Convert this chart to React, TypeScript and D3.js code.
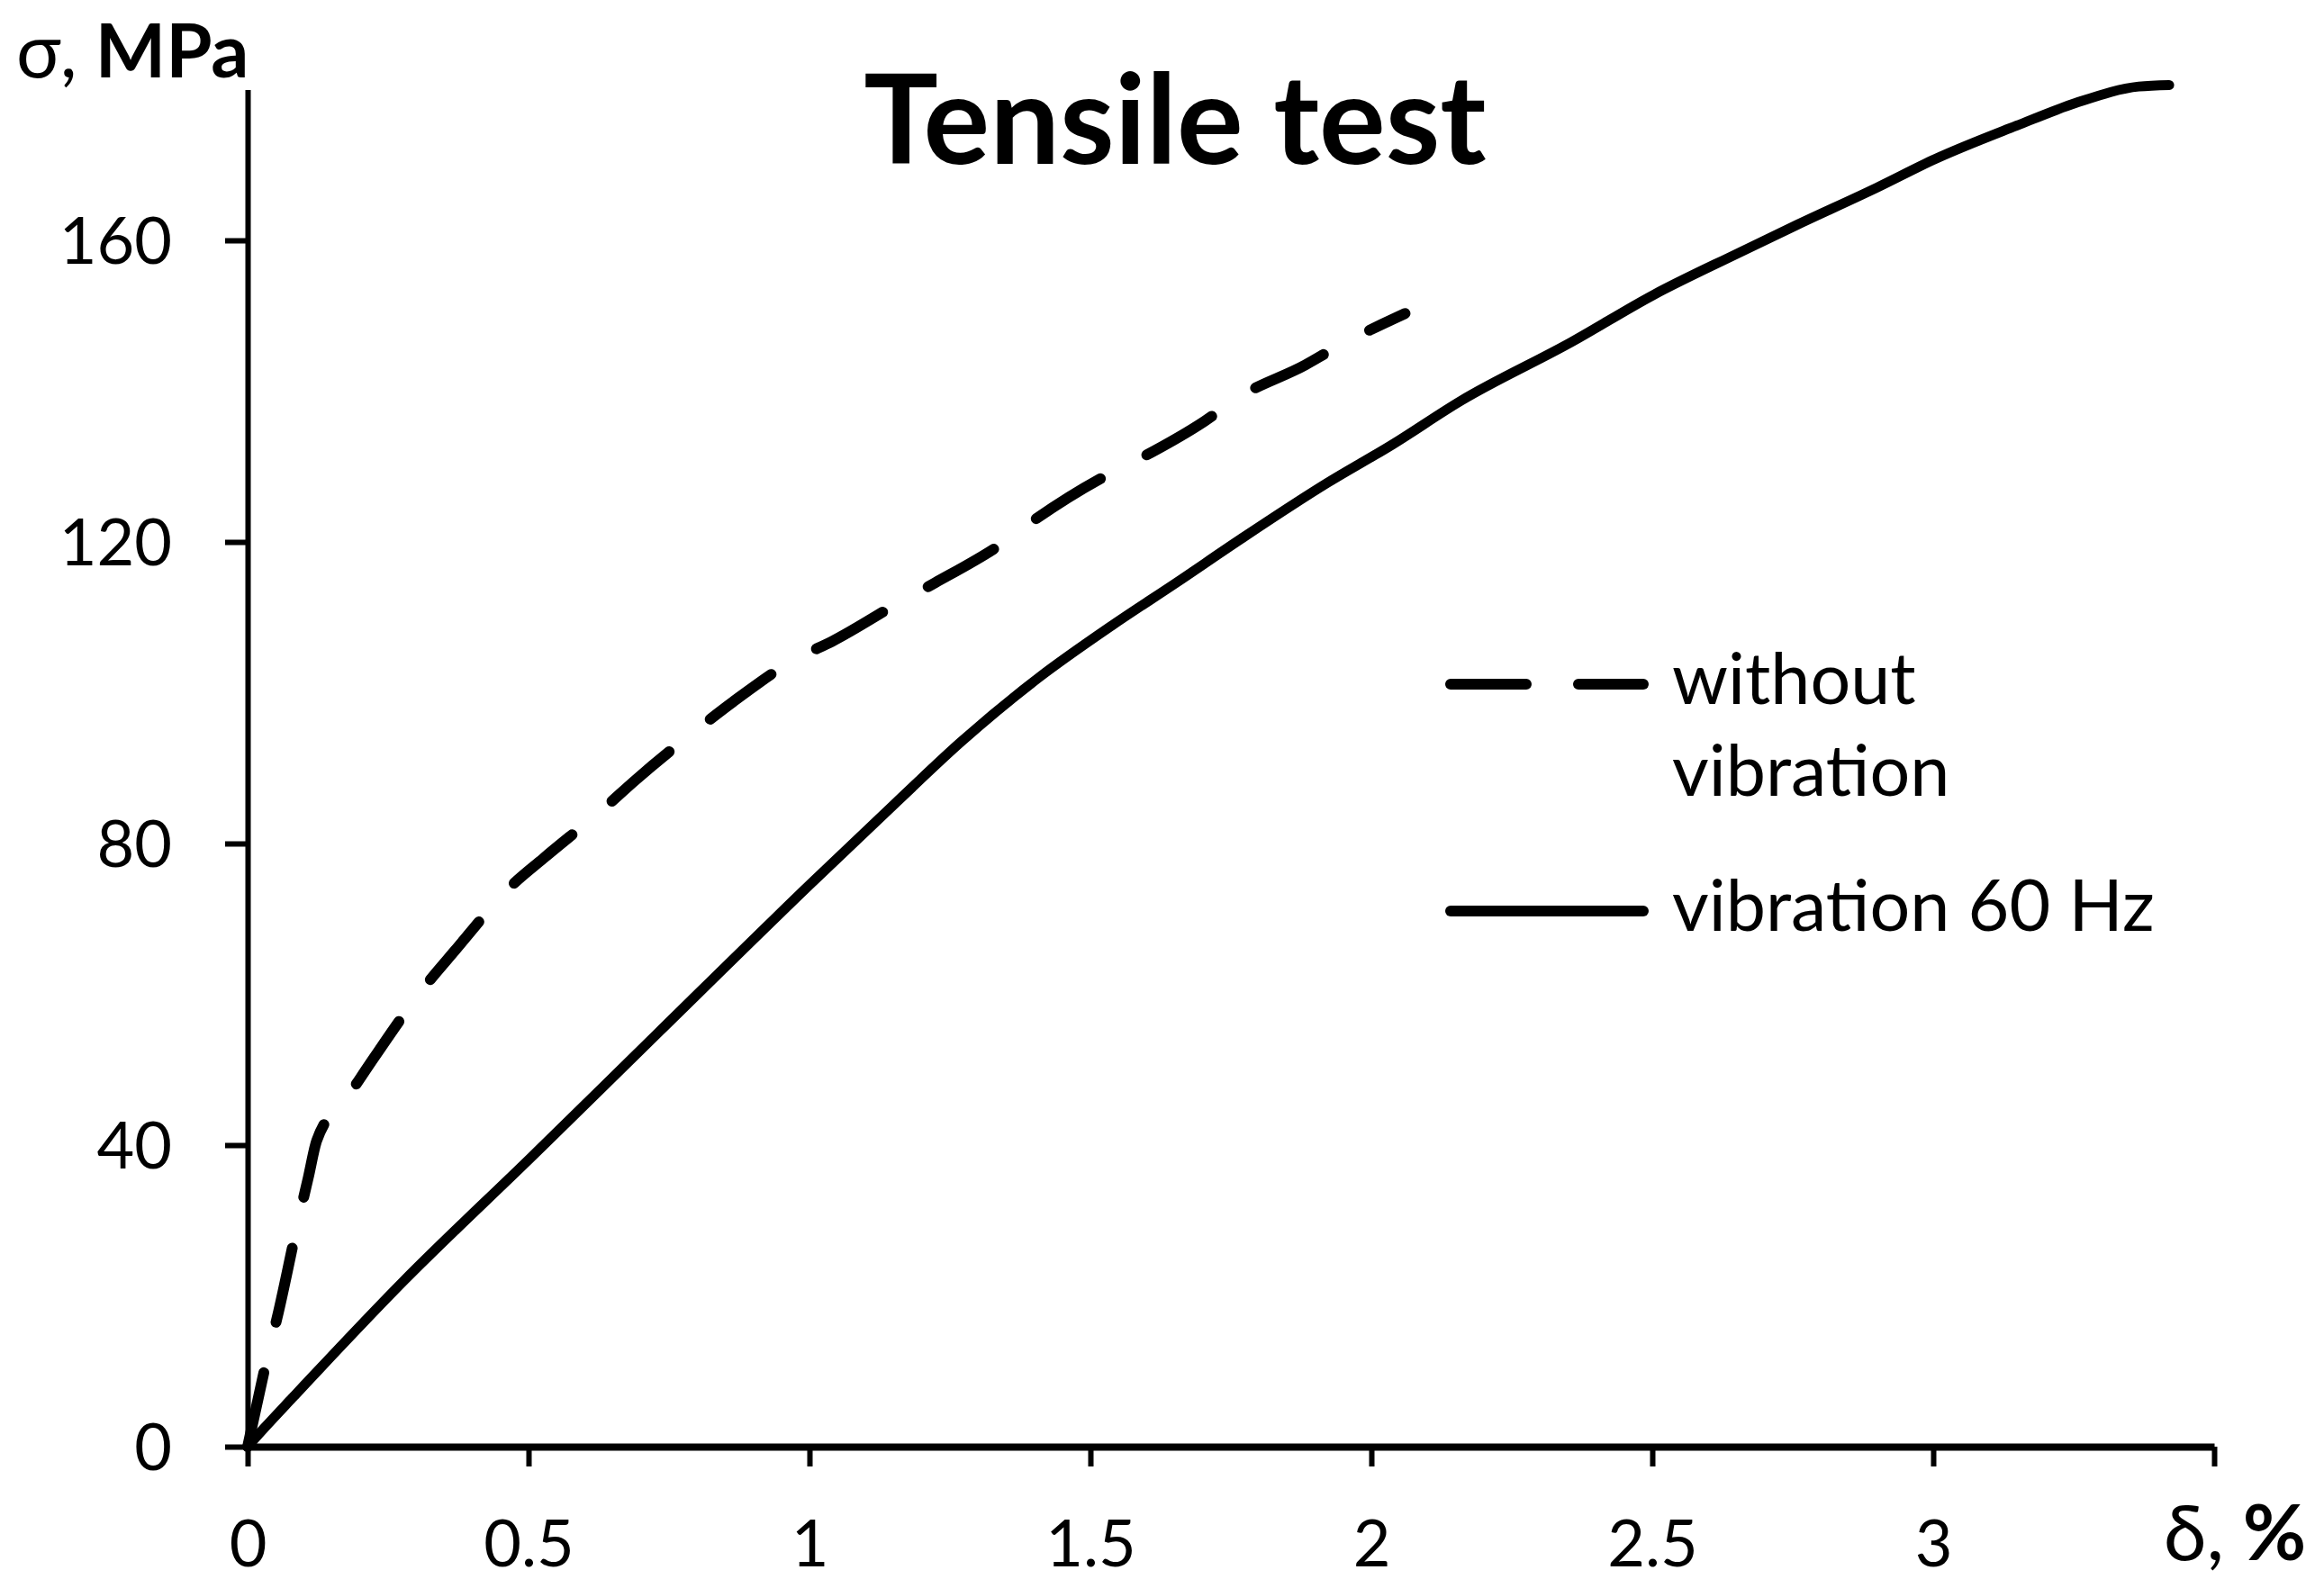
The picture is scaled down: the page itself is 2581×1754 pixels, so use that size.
import React, { useEffect, useRef } from "react";
import * as d3 from "d3";

// strain δ (%) and stress σ (MPa)
const withoutStrain = [0, 0.035, 0.055, 0.089, 0.108, 0.123, 0.178, 0.225, 0.316, 0.369, 0.471, 0.526, 0.636, 0.69, 0.808, 0.864, 0.981, 1.04, 1.165, 1.224, 1.343, 1.4, 1.523, 1.584, 1.703, 1.764, 1.883, 1.937, 2.06];
const withoutStress = [0, 11.8, 17.9, 29.6, 35.7, 40.6, 46.4, 51.6, 61.1, 65.8, 74.5, 78, 84.8, 88.4, 95.6, 98.8, 104.7, 106.8, 112.2, 114.6, 119.8, 122.9, 128.6, 130.9, 136, 139.2, 143.5, 145.8, 150.3];

const vib60Strain = [0, 0.03, 0.08, 0.278, 0.505, 0.732, 1.0, 1.155, 1.27, 1.408, 1.538, 1.653, 1.768, 1.921, 2.037, 2.159, 2.356, 2.503, 2.65, 2.756, 2.9, 3.004, 3.148, 3.253, 3.366, 3.42];
const vib60Stress = [0, 2.5, 6.5, 22, 38.4, 55, 74.5, 85.5, 93.5, 102, 108.9, 114.6, 120.4, 127.8, 132.9, 138.7, 146.5, 152.8, 158.2, 162, 167, 170.8, 175.2, 178.2, 180.4, 180.6];

const xTicks = [0, 0.5, 1, 1.5, 2, 2.5, 3, 3.5];
const xTickLabels = ["0", "0.5", "1", "1.5", "2", "2.5", "3", ""];
const yTicks = [0, 40, 80, 120, 160];
const yTickLabels = ["0", "40", "80", "120", "160"];

const legendLabels = [["without", "vibration"], ["vibration 60 Hz"]];
const legendDash = ["84 58", null];

const FONT = "Lato, 'Open Sans', 'Noto Sans', sans-serif";

const App: React.FC = () => {
  const svgRef = useRef<SVGSVGElement | null>(null);

  useEffect(() => {
    if (!svgRef.current) return;

    const width = 2581;
    const height = 1754;
    const margin = { top: 99.5, right: 122, bottom: 147, left: 275 };

    d3.select(svgRef.current).selectAll("*").remove();
    const svg = d3.select(svgRef.current).attr("width", width).attr("height", height);

    svg.append("rect").attr("width", width).attr("height", height).attr("fill", "white");

    const x = d3.scaleLinear().domain([0, 3.5]).range([margin.left, width - margin.right]);
    const y = d3.scaleLinear().domain([0, 180]).range([height - margin.bottom, margin.top]);

    // curves
    const line = d3
      .line<[number, number]>()
      .x((d) => x(d[0]))
      .y((d) => y(d[1]))
      .curve(d3.curveMonotoneX);

    svg
      .append("path")
      .datum(withoutStrain.map((v, i) => [v, withoutStress[i]] as [number, number]))
      .attr("d", line)
      .attr("fill", "none")
      .attr("stroke", "black")
      .attr("stroke-width", 12)
      .attr("stroke-linecap", "round")
      .attr("stroke-dasharray", "84 58");

    svg
      .append("path")
      .datum(vib60Strain.map((v, i) => [v, vib60Stress[i]] as [number, number]))
      .attr("d", line)
      .attr("fill", "none")
      .attr("stroke", "black")
      .attr("stroke-width", 11)
      .attr("stroke-linejoin", "round")
      .attr("stroke-linecap", "round");

    // axes
    const xAxis = d3
      .axisBottom(x)
      .tickValues(xTicks)
      .tickSize(22)
      .tickSizeOuter(0)
      .tickFormat((_, i) => xTickLabels[i]);
    const gx = svg
      .append("g")
      .attr("transform", `translate(0, ${height - margin.bottom})`)
      .call(xAxis);
    gx.select(".domain").attr("stroke-width", 8);
    gx.selectAll(".tick line").attr("stroke-width", 6);
    gx.selectAll(".tick text")
      .attr("y", 133)
      .attr("dy", null)
      .attr("fill", "black")
      .style("font-family", FONT)
      .style("font-size", "72px");

    const yAxis = d3
      .axisLeft(y)
      .tickValues(yTicks)
      .tickSize(25)
      .tickSizeOuter(0)
      .tickFormat((_, i) => yTickLabels[i]);
    const gy = svg
      .append("g")
      .attr("transform", `translate(${margin.left}, 0)`)
      .call(yAxis);
    gy.select(".domain").attr("stroke-width", 6);
    gy.selectAll(".tick line").attr("stroke-width", 6);
    gy.selectAll(".tick text")
      .attr("x", -84)
      .attr("dy", "0.36em")
      .attr("fill", "black")
      .style("font-family", FONT)
      .style("font-size", "72px");

    // title
    svg
      .append("text")
      .attr("x", 1305)
      .attr("y", 182)
      .attr("text-anchor", "middle")
      .style("font-family", FONT)
      .style("font-size", "138px")
      .style("font-weight", "bold")
      .text("Tensile test");

    // axis names
    const yName = svg
      .append("text")
      .attr("x", 18)
      .attr("y", 86)
      .style("font-family", FONT)
      .style("font-size", "83px")
      .style("white-space", "pre");
    yName.append("tspan").text("σ,");
    yName.append("tspan").style("font-weight", "bold").text(" MPa");

    const xName = svg
      .append("text")
      .attr("x", 2403)
      .attr("y", 1733)
      .style("font-family", FONT)
      .style("font-size", "86px")
      .style("white-space", "pre");
    xName.append("tspan").text("δ,");
    xName.append("tspan").style("font-weight", "bold").text(" %");

    // legend
    const legendY = [760, 1012];
    legendLabels.forEach((lines, i) => {
      const g = svg.append("g").attr("transform", `translate(0, ${legendY[i]})`);
      const l = g
        .append("line")
        .attr("x1", 1611)
        .attr("x2", 1825)
        .attr("stroke", "black")
        .attr("stroke-width", 12)
        .attr("stroke-linecap", "round");
      if (legendDash[i]) l.attr("stroke-dasharray", legendDash[i]!);
      lines.forEach((t, j) => {
        g.append("text")
          .attr("x", 1857)
          .attr("y", 22 + j * 102)
          .style("font-family", FONT)
          .style("font-size", "79px")
          .text(t);
      });
    });
  }, []);

  return (
    <svg
      ref={svgRef}
      style={{ position: "absolute", left: 0, top: 0, display: "block" }}
    ></svg>
  );
};

export default App;
